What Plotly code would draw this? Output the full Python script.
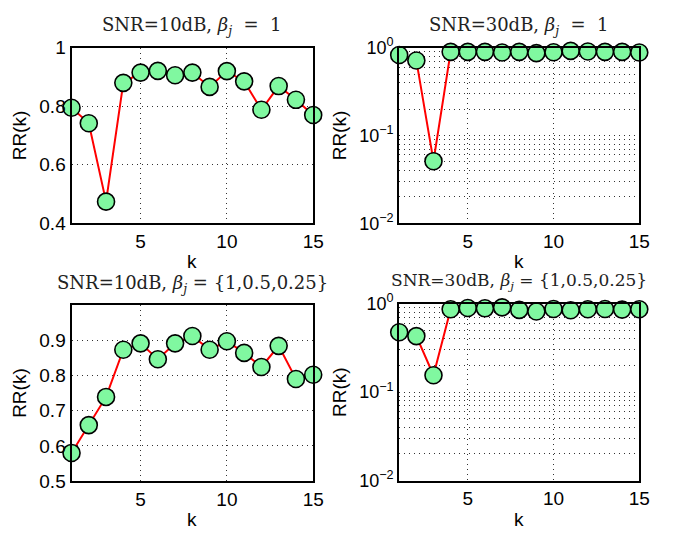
import plotly.graph_objects as go

# Ranking ratio RR(k) versus k for two SNR levels and two weight settings
k = list(range(1, 16))

rr_10db_beta1 = [0.795, 0.742, 0.474, 0.880, 0.915, 0.921, 0.906, 0.915,
                 0.866, 0.920, 0.885, 0.788, 0.869, 0.822, 0.770]
rr_30db_beta1 = [0.825, 0.716, 0.051, 0.897, 0.897, 0.897, 0.882, 0.897,
                 0.868, 0.889, 0.920, 0.905, 0.897, 0.897, 0.882]
rr_10db_betamix = [0.580, 0.659, 0.739, 0.873, 0.891, 0.846, 0.891, 0.912,
                   0.873, 0.897, 0.864, 0.824, 0.884, 0.790, 0.802]
rr_30db_betamix = [0.474, 0.429, 0.155, 0.861, 0.891, 0.883, 0.905, 0.847,
                   0.813, 0.868, 0.840, 0.861, 0.868, 0.854, 0.861]

titles = [
    "SNR=10dB, <i>β<sub>j</sub></i>&nbsp; = &nbsp;1",
    "SNR=30dB, <i>β<sub>j</sub></i>&nbsp; = &nbsp;1",
    "SNR=10dB, <i>β<sub>j</sub></i> = {1,0.5,0.25}",
    "SNR=30dB, <i>β<sub>j</sub></i> = {1,0.5,0.25}",
]
series = [rr_10db_beta1, rr_30db_beta1, rr_10db_betamix, rr_30db_betamix]
log_panel = [False, True, False, True]

W, H = 686, 540
# panel boxes in pixels: (left, right, top, bottom)
boxes = [
    (72.7, 318.3, 37.3, 220.7),
    (405.7, 649.7, 37.3, 220.7),
    (72.7, 318.3, 306.0, 490.0),
    (405.7, 649.7, 304.5, 489.5),
]
# vertical centres (pixels from the top) of each panel title and "k" label
title_y = [15, 15, 284, 281]
title_size = [18, 18, 18, 17]
xlabel_y = [261, 261, 530, 530]

SANS = "Liberation Sans, Arial, sans-serif"
SERIF = "DejaVu Serif, Liberation Serif, serif"
MARKER = "#80f8a0"
GRID = dict(showgrid=True, gridcolor="#333333", griddash="1px,4px", gridwidth=1)

fig = go.Figure()
layout = dict(
    width=W, height=H,
    margin=dict(l=0, r=0, t=0, b=0),
    paper_bgcolor="white", plot_bgcolor="white",
    showlegend=False,
    font=dict(family=SANS, size=19, color="black"),
    annotations=[],
)

lin_ticks = [
    ([0.4, 0.6, 0.8, 1.0], ["0.4", "0.6", "0.8", "1"], [0.4, 1.0]),
    None,
    ([0.5, 0.6, 0.7, 0.8, 0.9], ["0.5", "0.6", "0.7", "0.8", "0.9"], [0.5, 1.0]),
    None,
]
log_minor = [m * 10 ** e for e in (-2, -1) for m in range(2, 10)]

for i, (ys, title, is_log, box) in enumerate(zip(series, titles, log_panel, boxes)):
    n = i + 1
    xa = "xaxis" if n == 1 else f"xaxis{n}"
    ya = "yaxis" if n == 1 else f"yaxis{n}"
    xr = "x" if n == 1 else f"x{n}"
    yr = "y" if n == 1 else f"y{n}"
    l, r, t, b = box

    fig.add_trace(go.Scatter(
        x=k, y=ys, xaxis=xr, yaxis=yr, mode="lines+markers",
        line=dict(color="#ff0000", width=2),
        marker=dict(size=17, color=MARKER, line=dict(color="black", width=1.6)),
        cliponaxis=False,
    ))

    layout[xa] = dict(
        domain=[l / W, r / W], anchor=yr, range=[1, 15],
        tickvals=[5, 10, 15], ticks="", **GRID,
        showline=True, linecolor="black", linewidth=2, mirror=True,
        zeroline=False, tickfont=dict(family=SANS, size=19),
    )
    ydict = dict(
        domain=[1 - b / H, 1 - t / H], anchor=xr, ticks="", **GRID,
        showline=True, linecolor="black", linewidth=2, mirror=True,
        zeroline=False, tickfont=dict(family=SANS, size=19),
        title=dict(text="RR(k)", font=dict(family=SANS, size=19), standoff=8),
    )
    if is_log:
        ydict.update(
            type="log", range=[-2, 0],
            tickvals=[0.01, 0.1, 1],
            ticktext=["10<sup>−2</sup>", "10<sup>−1</sup>", "10<sup>0</sup>"],
            tickfont=dict(family=SANS, size=18),
            minor=dict(tickvals=log_minor, ticks="", **GRID),
        )
    else:
        tv, tt, rng = lin_ticks[i]
        ydict.update(range=rng, tickvals=tv, ticktext=tt)
    layout[ya] = ydict

    # panel title
    layout["annotations"].append(dict(
        text=title, xref="paper", yref="paper",
        x=(l + r) / 2 / W, y=1 - title_y[i] / H,
        xanchor="center", yanchor="middle", showarrow=False,
        font=dict(family=SERIF, size=title_size[i], color="#222222"),
    ))
    # x-axis label
    layout["annotations"].append(dict(
        text="k", xref="paper", yref="paper",
        x=(l + r) / 2 / W, y=1 - xlabel_y[i] / H,
        xanchor="center", yanchor="middle", showarrow=False,
        font=dict(family=SANS, size=19, color="black"),
    ))

fig.update_layout(**layout)
fig.write_html("out.html")
